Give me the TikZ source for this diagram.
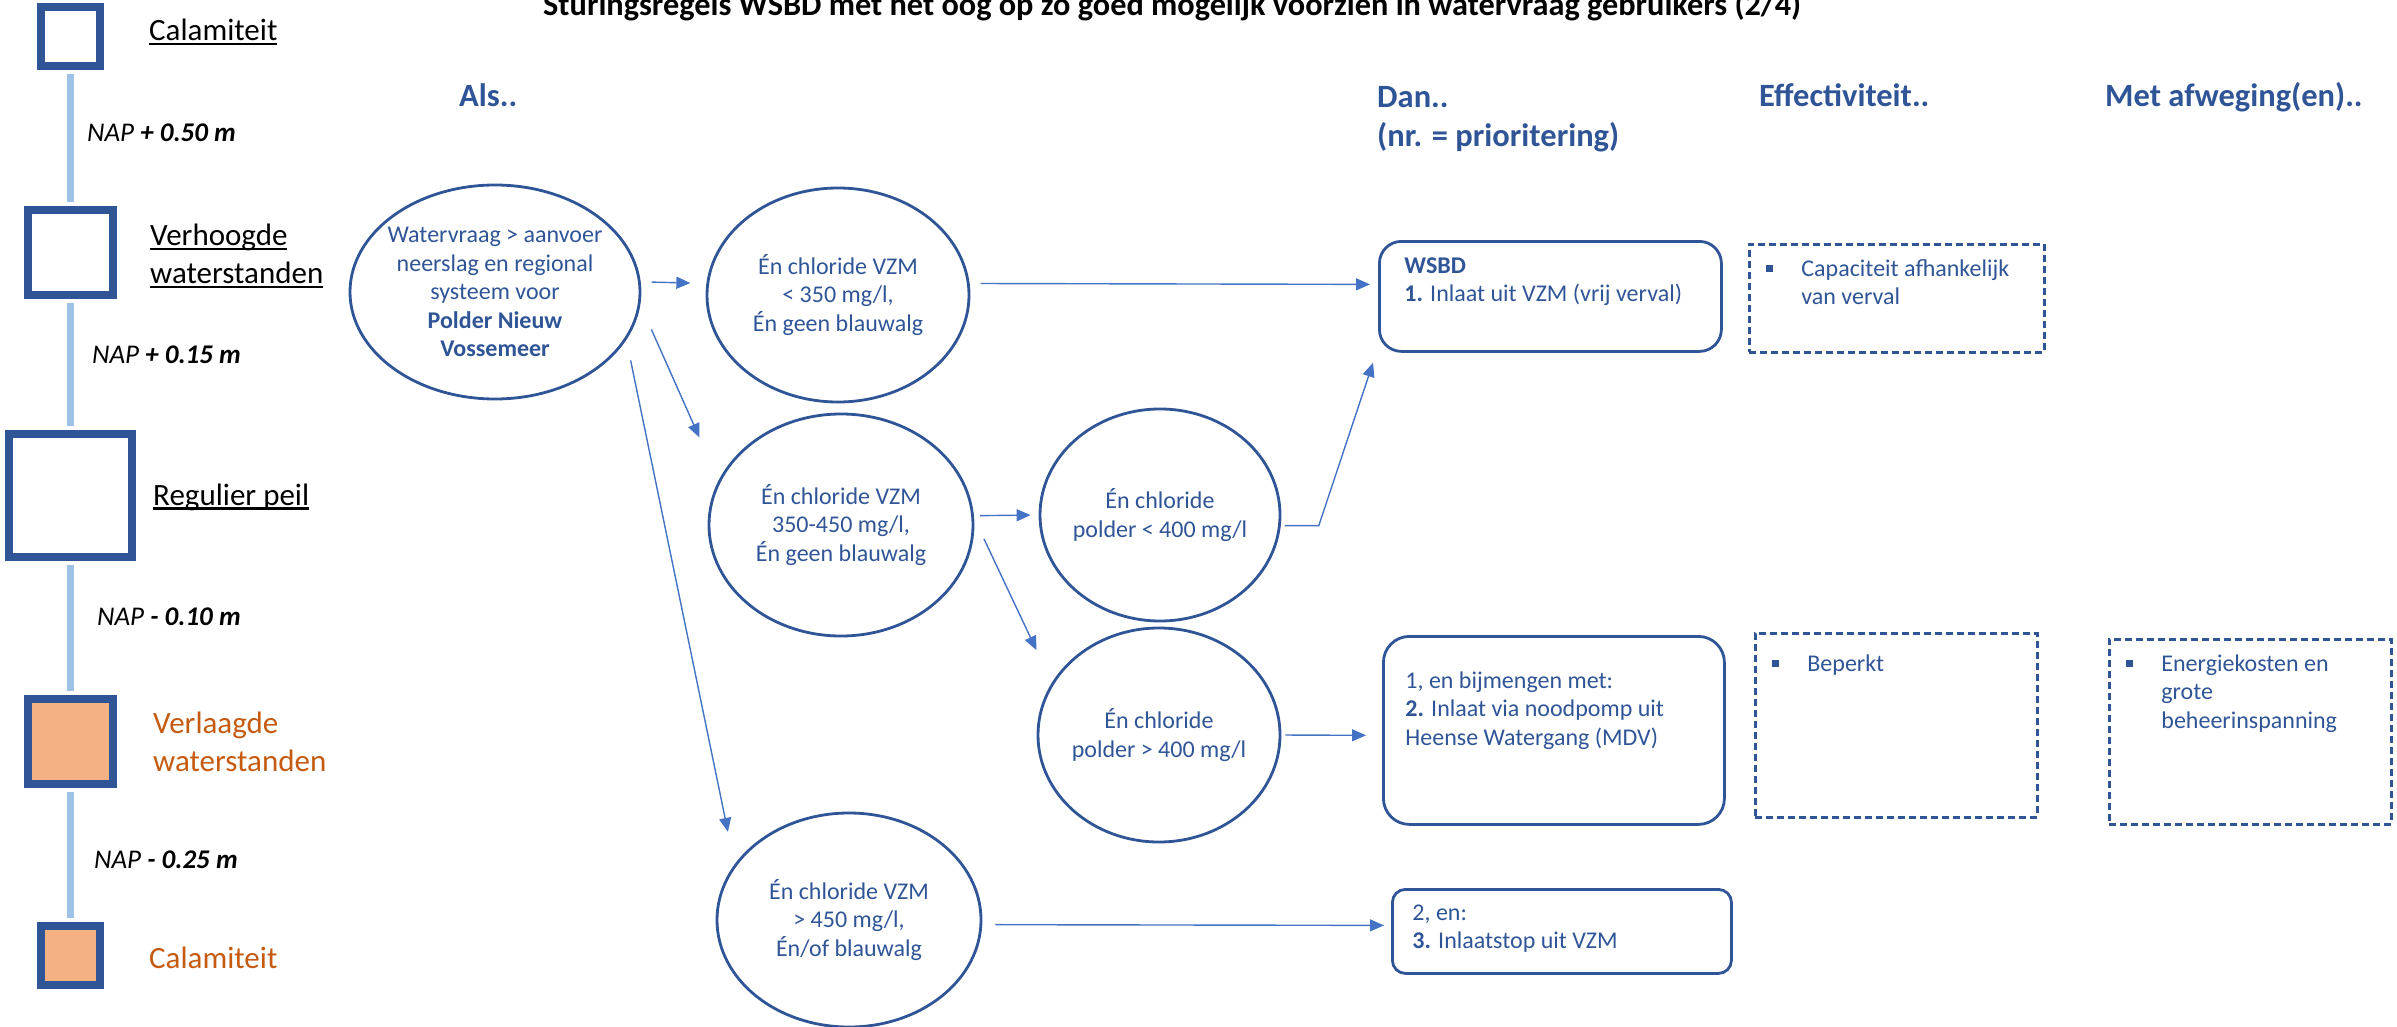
\documentclass[tikz,border=0pt]{standalone}
\usepackage{fontspec}
\setmainfont{Carlito}
\usepackage{tikz}
\usetikzlibrary{shapes.geometric, arrows.meta, positioning}
\definecolor{wsnavy}{RGB}{47,85,151}
\definecolor{wsarrow}{RGB}{68,114,196}
\definecolor{wslight}{RGB}{157,195,230}
\definecolor{wsorange}{RGB}{244,177,131}
\definecolor{wsorangetxt}{RGB}{197,90,17}
\newsavebox{\ulbox}
\newcommand{\ulword}[1]{\sbox{\ulbox}{#1}\usebox{\ulbox}\llap{\rule[-4.5pt]{\wd\ulbox}{2.2pt}}}
\newcommand{\cardbody}[3]{\parbox[c][#1][t]{#2}{\raggedright\strut#3}}
\newcommand{\sqbullet}{\makebox[35pt][l]{\rule[4.5pt]{7pt}{6.5pt}}}
\tikzset{
  gauge/.style={rectangle, draw=wsnavy, line width=8pt, fill=white, inner sep=0pt},
  levelline/.style={draw=wslight, line width=7pt},
  lbl/.style={font=\fontsize{31}{38}\selectfont, inner sep=0pt, align=left},
  nap/.style={font=\fontsize{27}{32}\selectfont\itshape, inner sep=0pt, anchor=base west},
  head/.style={font=\fontsize{32.5}{39}\selectfont\bfseries, text=wsnavy, inner sep=0pt, align=left},
  bubble/.style={ellipse, draw=wsnavy, line width=2.8pt, text=wsnavy, align=center,
    inner xsep=-11pt, inner ysep=0pt, font=\fontsize{24}{28.5}\selectfont},
  card/.style={rectangle, draw=wsnavy, line width=2.8pt, text=wsnavy, anchor=north west,
    font=\fontsize{24}{28.5}\selectfont},
  note/.style={card, dash pattern=on 7pt off 4pt},
  arr/.style={-{Triangle[length=14pt,width=12pt]}, draw=wsarrow, line width=1.4pt}
}

\begin{document}
\begin{tikzpicture}[x=1pt, y=-1pt]
  \useasboundingbox (0,0) rectangle (2397,1027);

  % Title
  \node[font=\fontsize{32.3}{38}\selectfont\bfseries, anchor=base west, inner sep=0pt] (title) at (543,16)
    {Sturingsregels WSBD met het oog op zo goed mogelijk voorzien in watervraag gebruikers (2/4)};

  % Water level scale
  \node[gauge, minimum size=59pt] (cal1box) at (70,36.5) {};
  \node[gauge, minimum size=85pt] (highbox) at (70,252.5) {};
  \node[gauge, minimum size=123pt] (normbox) at (70,495) {};
  \node[gauge, fill=wsorange, minimum size=85pt] (lowbox) at (70,741) {};
  \node[gauge, fill=wsorange, minimum size=59pt] (cal2box) at (70,955) {};
  \foreach \a/\b in {cal1box/highbox, highbox/normbox, normbox/lowbox, lowbox/cal2box}
    \draw[levelline, shorten <=4pt, shorten >=4pt] (\a.south) -- (\b.north);

  \node[lbl, anchor=base west] (cal1) at (149,41) {\ulword{Calamiteit}};
  \node[nap] (nap1) at (87,142) {NAP \textbf{+ 0.50 m}};
  \node[lbl, anchor=north west] (high) at (150,218.4) {\strut\ulword{Verhoogde}\\\ulword{waterstanden}};
  \node[nap] (nap2) at (92,363) {NAP \textbf{+ 0.15 m}};
  \node[lbl, anchor=base west] (norm) at (153,505) {\ulword{Regulier peil}};
  \node[nap] (nap3) at (97,625) {NAP \textbf{- 0.10 m}};
  \node[lbl, anchor=north west, text=wsorangetxt] (low) at (153,706.4) {\strut Verlaagde\\waterstanden};
  \node[nap] (nap4) at (94,868) {NAP \textbf{- 0.25 m}};
  \node[lbl, anchor=base west, text=wsorangetxt] (cal2) at (149,968) {Calamiteit};

  % Column headings
  \node[head, anchor=base west] (als) at (459,107) {Als..};
  \node[head, anchor=north west] (dan) at (1377,79.7) {\strut Dan..\\(nr. = prioritering)};
  \node[head, anchor=base west] (effect) at (1759,107) {Effectiviteit..};
  \node[head, anchor=base west] (afweg) at (2105,107) {Met afweging(en)..};

  % Conditions
  \node[bubble, minimum width=290pt, minimum height=214pt] (e0) at (495,292)
    {Watervraag > aanvoer\\neerslag en regional\\systeem voor\\\textbf{Polder Nieuw}\\\textbf{Vossemeer}};
  \node[bubble, minimum width=262pt, minimum height=214pt] (e1) at (838,295)
    {Én chloride VZM\\< 350 mg/l,\\Én geen blauwalg};
  \node[bubble, minimum width=264pt, minimum height=222pt] (e2) at (841,525)
    {Én chloride VZM\\350-450 mg/l,\\Én geen blauwalg};
  \node[bubble, minimum width=240pt, minimum height=212pt] (e3) at (1160,515)
    {Én chloride\\polder < 400 mg/l};
  \node[bubble, minimum width=242pt, minimum height=214pt] (e4) at (1159,735)
    {Én chloride\\polder > 400 mg/l};
  \node[bubble, minimum width=264pt, minimum height=214pt] (e5) at (849,920)
    {Én chloride VZM\\> 450 mg/l,\\Én/of blauwalg};

  % Measures
  \node[card, rounded corners=22pt, inner xsep=25pt, inner ysep=12pt] (wsbd) at (1378,240)
    {\cardbody{86pt}{292pt}{\textbf{WSBD}\\\textbf{1.} Inlaat uit VZM (vrij verval)}};
  \node[card, rounded corners=26pt, inner xsep=22pt, inner ysep=32pt] (mix) at (1382,635)
    {\cardbody{124pt}{297pt}{1, en bijmengen met:\\\textbf{2.} Inlaat via noodpomp uit\\Heense Watergang (MDV)}};
  \node[card, rounded corners=13pt, inner xsep=20pt, inner ysep=11pt] (stop) at (1391,888)
    {\cardbody{62pt}{299pt}{2, en:\\\textbf{3.} Inlaatstop uit VZM}};

  % Effectiveness and trade-offs
  \node[note, inner xsep=17pt, inner ysep=12pt] (cap) at (1748,243)
    {\cardbody{84pt}{261pt}{\sqbullet Capaciteit afhankelijk\\\hspace*{35pt}van verval}};
  \node[note, inner xsep=17pt, inner ysep=18pt] (bep) at (1754,632)
    {\cardbody{148pt}{248pt}{\sqbullet Beperkt}};
  \node[note, inner xsep=17pt, inner ysep=12pt] (cost) at (2108,638)
    {\cardbody{161pt}{248pt}{\sqbullet Energiekosten en\\\hspace*{35pt}grote\\\hspace*{35pt}beheerinspanning}};

  % Arrows
  \draw[arr, shorten <=11pt, shorten >=16pt] (e0.4) -- (e1.175);
  \draw[arr, shorten <=27pt, shorten >=47pt] (e0.-5) -- (e2.160);
  \draw[arr, shorten <=21pt, shorten >=33pt] (e0.-20) -- (e5.154);
  \draw[arr, shorten <=11pt, shorten >=8pt] (e1.5) -- ([yshift=12pt]wsbd.west);
  \draw[arr, shorten <=6pt, shorten >=8pt] (e2.4) -- (e3.180);
  \draw[arr, shorten <=23pt, shorten >=36pt] (e2.3) -- (e4.154);
  \draw[arr, shorten <=4pt] (e3.-5) -- ++(38,0) -- ([xshift=-5pt, yshift=-10pt]wsbd.south west);
  \draw[arr, shorten <=4pt, shorten >=16pt] (e4.0) -- ([yshift=-5pt]mix.west);
  \draw[arr, shorten <=13pt, shorten >=7pt] (e5.-2) -- ([yshift=6pt]stop.west);
\end{tikzpicture}
\end{document}
